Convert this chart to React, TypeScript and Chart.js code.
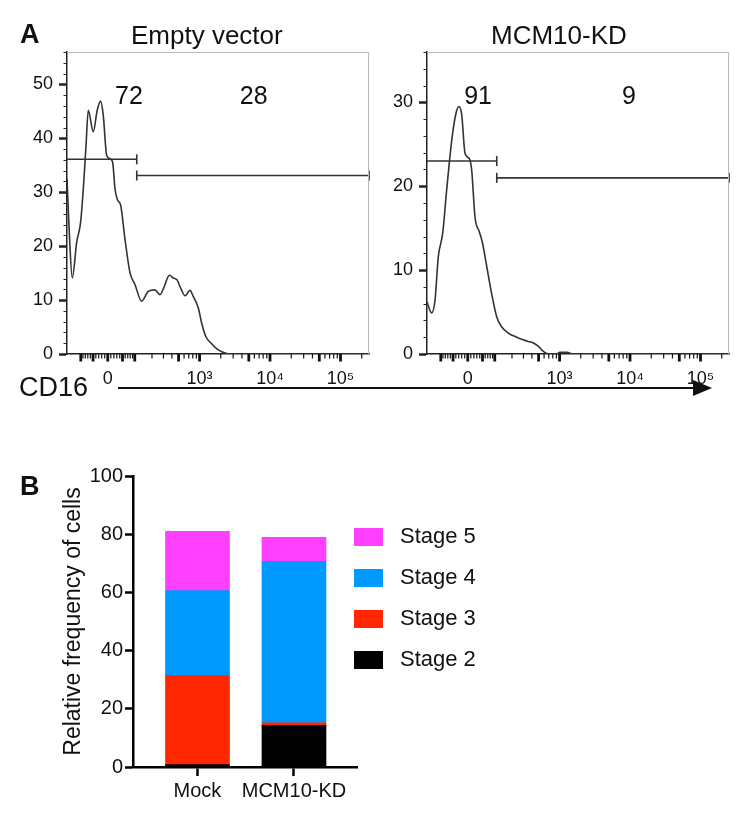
import React, { useEffect, useRef } from 'react';
import { Chart, registerables } from 'chart.js';

Chart.register(...registerables);

const FONT = '"Liberation Sans", Arial, Helvetica, sans-serif';
const INK = '#111111';
const CURVE = '#333333';

// ---------------- Panel A: CD16 histograms ----------------
// x = display channel on the biexponential CD16 axis (0–1000), y = cell count
const evChannel = [0, 8, 17.5, 32, 45, 54, 63, 70.5, 87, 100, 111.5, 120, 131.5, 142.5, 151, 159, 166.5, 178, 192, 208.5, 225, 247, 269, 291, 308, 320, 339, 352, 365, 376.5, 391, 407, 418, 435, 446, 460, 479, 501, 529, 556, 1000];
const evCount = [32.5, 22, 14.1, 20.7, 24.4, 30.6, 38.7, 45.2, 41.2, 45.2, 46.9, 44.3, 36.8, 36.2, 35.6, 30.6, 28.7, 27.5, 21.3, 15.1, 12.9, 9.8, 11.6, 11.9, 11.0, 12.2, 14.6, 14.1, 13.7, 12.2, 10.8, 11.8, 10.7, 8.5, 5.7, 3.2, 1.9, 0.75, 0.1, 0, 0];

const kdChannel = [0, 15.5, 26.5, 37.5, 52, 65, 82, 96, 106, 115, 126, 140, 148, 159, 173, 184, 198, 214, 231, 247, 269, 297, 318, 335, 351, 369, 385, 402, 429, 440, 463, 484, 1000];
const kdCount = [6.2, 4.9, 6.4, 11.6, 14.4, 19.5, 25.5, 28.7, 29.5, 28.5, 23.9, 23.3, 21.9, 16.3, 14.6, 13.2, 10.4, 7.2, 4.4, 3.25, 2.5, 2.0, 1.7, 1.5, 1.35, 0.9, 0.3, 0, 0, 0.2, 0.2, 0, 0];

// gates: boundaries in display channel, marker heights in count units
const gateBounds = [0, 231, 1000];
const evGateY = [36.1, 33.1];
const kdGateY = [23.0, 21.0];
const evGatePct = ['72', '28'];
const kdGatePct = ['91', '9'];
const evPctAnchorX = [205, 618];
const evPctAnchorY = [47.7, 47.7];
const kdPctAnchorX = [169, 669];
const kdPctAnchorY = [30.6, 30.6];

// axes
const evYMax = 56;
const kdYMax = 36;
const evYMajor = [0, 10, 20, 30, 40, 50];
const kdYMajor = [0, 10, 20, 30];
const xMajorValues = [0, 1e3, 1e4, 1e5];
const xMajorLabels = ['0', '10\u00B3', '10\u2074', '10\u2075'];

// ---------------- Panel B: stacked bars ----------------
const categories = ['Mock', 'MCM10-KD'];
const stageLabels = ['Stage 2', 'Stage 3', 'Stage 4', 'Stage 5'];
const stage2 = [0.8, 14.3];
const stage3 = [30.6, 0.9];
const stage4 = [29.2, 55.5];
const stage5 = [20.4, 8.2];
const stageColors = ['#000000', '#FF2600', '#0099FF', '#FF40FF'];
const bTicks = [0, 20, 40, 60, 80, 100];

// biexponential display transform (fluorescence value -> display channel)
const biex = (v: number) => 1000 * (0.135 + 0.1014 * Math.asinh(v / 100));

type XT = { v: number; thick: boolean };
function buildXTicks(): XT[] {
  const out: XT[] = [];
  for (let k = -10; k <= 10; k++) out.push({ v: k * 10, thick: k % 5 === 0 });
  for (const d of [100, 1000, 10000]) {
    for (let k = 2; k <= 10; k++) out.push({ v: d * k, thick: k === 5 || k === 10 });
  }
  out.push({ v: 2e5, thick: false });
  return out;
}
const X_TICKS = buildXTicks();

const histDecor = {
  id: 'histDecor',
  afterDraw(chart: any, _args: any, opts: any) {
    const { ctx, chartArea: a, scales } = chart;
    const xs = scales.x;
    const ys = scales.y;
    ctx.save();
    ctx.strokeStyle = '#b8b8b8';
    ctx.lineWidth = 1;
    ctx.beginPath();
    ctx.moveTo(a.left, a.top + 0.5);
    ctx.lineTo(a.right - 0.5, a.top + 0.5);
    ctx.lineTo(a.right - 0.5, a.bottom);
    ctx.stroke();
    ctx.strokeStyle = '#222';
    ctx.lineWidth = 1;
    for (let v = 2; v <= opts.yMax; v += 2) {
      if (v % 10 === 0) continue;
      const py = Math.round(ys.getPixelForValue(v)) + 0.5;
      ctx.beginPath();
      ctx.moveTo(a.left - 3.5, py);
      ctx.lineTo(a.left, py);
      ctx.stroke();
    }
    ctx.strokeStyle = '#111';
    for (const t of X_TICKS) {
      const px = xs.getPixelForValue(biex(t.v));
      if (px < a.left || px > a.right) continue;
      ctx.lineWidth = t.thick ? 2.8 : 1.2;
      ctx.beginPath();
      ctx.moveTo(px, a.bottom);
      ctx.lineTo(px, a.bottom + (t.thick ? 7.5 : 4.5));
      ctx.stroke();
    }
    ctx.fillStyle = INK;
    ctx.font = `25px ${FONT}`;
    ctx.textAlign = 'center';
    ctx.textBaseline = 'middle';
    opts.texts.forEach((txt: string, i: number) => {
      ctx.fillText(txt, xs.getPixelForValue(opts.tx[i]), ys.getPixelForValue(opts.ty[i]));
    });
    ctx.restore();
  },
};

function histConfig(
  channels: number[], counts: number[], gateY: number[], pct: string[],
  tx: number[], ty: number[], yMax: number, yMajor: number[], yAxisWidth: number, rightPad: number,
): any {
  const gateStyle = {
    borderColor: CURVE, borderWidth: 1.6, pointStyle: 'line', pointRotation: 90,
    pointBorderColor: CURVE, pointBorderWidth: 1.6, pointBackgroundColor: CURVE, clip: false,
  };
  return {
    type: 'line',
    data: {
      datasets: [
        {
          data: channels.map((c, i) => ({ x: c, y: counts[i] })),
          borderColor: CURVE, borderWidth: 1.6, pointRadius: 0, cubicInterpolationMode: 'monotone', fill: false,
        },
        { ...gateStyle, data: [{ x: gateBounds[0], y: gateY[0] }, { x: gateBounds[1], y: gateY[0] }], pointRadius: [0, 5] },
        { ...gateStyle, data: [{ x: gateBounds[1], y: gateY[1] }, { x: gateBounds[2], y: gateY[1] }], pointRadius: 5 },
      ],
    },
    options: {
      animation: false,
      responsive: false,
      events: [],
      layout: { padding: { left: 0, top: 52, right: rightPad, bottom: 0 } },
      plugins: {
        legend: { display: false },
        tooltip: { enabled: false },
        histDecor: { yMax, texts: pct, tx, ty },
      },
      scales: {
        x: {
          type: 'linear', min: 0, max: 1000,
          afterBuildTicks: (s: any) => { s.ticks = xMajorValues.map((v) => ({ value: biex(v) })); },
          afterFit: (s: any) => { s.height = 46; },
          grid: { display: false },
          border: { display: true, color: '#222', width: 1.5 },
          ticks: {
            callback: (_v: any, i: number) => xMajorLabels[i],
            font: { family: FONT, size: 18 }, color: INK, padding: 6, autoSkip: false, maxRotation: 0,
          },
        },
        y: {
          type: 'linear', min: 0, max: yMax,
          afterBuildTicks: (s: any) => { s.ticks = yMajor.map((v) => ({ value: v })); },
          afterFit: (s: any) => { s.width = yAxisWidth; },
          grid: { drawOnChartArea: false, tickLength: 8, tickWidth: 2.5, tickColor: '#222' },
          border: { display: true, color: '#222', width: 1.5 },
          ticks: { font: { family: FONT, size: 18 }, color: INK, padding: 6 },
        },
      },
    },
    plugins: [histDecor],
  };
}

const stageLegend = {
  id: 'stageLegend',
  afterDraw(chart: any, _args: any, opts: any) {
    const { ctx } = chart;
    const ds = chart.data.datasets;
    ctx.save();
    ctx.font = `22px ${FONT}`;
    ctx.textAlign = 'left';
    ctx.textBaseline = 'middle';
    const order = ds.map((_d: any, i: number) => i).reverse();
    order.forEach((di: number, row: number) => {
      const cy = opts.y0 + row * opts.step;
      ctx.fillStyle = ds[di].backgroundColor;
      ctx.fillRect(opts.x, cy - 9, 29, 18);
      ctx.fillStyle = INK;
      ctx.fillText(ds[di].label, opts.textX, cy);
    });
    ctx.restore();
  },
};

function barConfig(): any {
  const stageValues = [stage2, stage3, stage4, stage5];
  return {
    type: 'bar',
    data: {
      datasets: stageLabels.map((lab, si) => ({
        label: lab,
        data: stageValues[si].map((v, i) => ({ x: i, y: v })),
        backgroundColor: stageColors[si],
        borderWidth: 0,
        barThickness: 64,
        stack: 'cells',
      })),
    },
    options: {
      animation: false,
      responsive: false,
      events: [],
      layout: { padding: { left: 0, top: 21, right: 397, bottom: 0 } },
      plugins: {
        legend: { display: false },
        tooltip: { enabled: false },
        stageLegend: { x: 354, textX: 400, y0: 82, step: 41 },
      },
      scales: {
        x: {
          type: 'linear', min: -0.668, max: 1.653, offset: false,
          afterBuildTicks: (s: any) => { s.ticks = categories.map((_c, i) => ({ value: i })); },
          afterFit: (s: any) => { s.height = 51; },
          grid: { offset: false, drawOnChartArea: false, tickLength: 9, tickWidth: 2.5, tickColor: '#000' },
          border: { display: true, color: '#000', width: 2.5 },
          ticks: {
            callback: (_v: any, i: number) => categories[i],
            font: { family: FONT, size: 20 }, color: INK, padding: 3, autoSkip: false, maxRotation: 0,
          },
        },
        y: {
          stacked: true, min: 0, max: 100,
          afterBuildTicks: (s: any) => { s.ticks = bTicks.map((v) => ({ value: v })); },
          afterFit: (s: any) => { s.width = 133; },
          grid: { drawOnChartArea: false, tickLength: 8, tickWidth: 2.5, tickColor: '#000' },
          border: { display: true, color: '#000', width: 2.5 },
          ticks: { font: { family: FONT, size: 20 }, color: INK, padding: 2 },
          title: {
            display: true, text: 'Relative frequency of cells',
            font: { family: FONT, size: 23 }, color: INK, padding: { top: 60, bottom: 0 },
          },
        },
      },
    },
    plugins: [stageLegend],
  };
}

export default function App() {
  const evRef = useRef<HTMLCanvasElement>(null);
  const kdRef = useRef<HTMLCanvasElement>(null);
  const barRef = useRef<HTMLCanvasElement>(null);

  useEffect(() => {
    const charts = [
      new Chart(evRef.current as HTMLCanvasElement, histConfig(evChannel, evCount, evGateY, evGatePct, evPctAnchorX, evPctAnchorY, evYMax, evYMajor, 67, 11)),
      new Chart(kdRef.current as HTMLCanvasElement, histConfig(kdChannel, kdCount, kdGateY, kdGatePct, kdPctAnchorX, kdPctAnchorY, kdYMax, kdYMajor, 47, 25)),
      new Chart(barRef.current as HTMLCanvasElement, barConfig()),
    ];
    return () => charts.forEach((c) => c.destroy());
  }, []);

  const txt = (s: React.CSSProperties): React.CSSProperties => ({
    position: 'absolute', lineHeight: 1, whiteSpace: 'nowrap', fontFamily: FONT, color: INK, ...s,
  });

  return (
    <div style={{ position: 'absolute', left: 0, top: 0, width: 754, height: 818, background: '#fff', overflow: 'hidden' }}>
      <canvas ref={evRef} width={380} height={400} style={{ position: 'absolute', left: 0, top: 0, width: 380, height: 400 }} />
      <canvas ref={kdRef} width={374} height={400} style={{ position: 'absolute', left: 380, top: 0, width: 374, height: 400 }} />
      <canvas ref={barRef} width={754} height={363} style={{ position: 'absolute', left: 0, top: 455, width: 754, height: 363 }} />
      <div style={txt({ left: 20, top: 21, fontSize: 27, fontWeight: 'bold' })}>A</div>
      <div style={txt({ left: 131, top: 21.5, fontSize: 26 })}>Empty vector</div>
      <div style={txt({ left: 491, top: 21.5, fontSize: 26 })}>MCM10-KD</div>
      <div style={txt({ left: 19, top: 374, fontSize: 27 })}>CD16</div>
      <div style={txt({ left: 20, top: 472.5, fontSize: 27, fontWeight: 'bold' })}>B</div>
      <svg width={754} height={818} style={{ position: 'absolute', left: 0, top: 0, pointerEvents: 'none' }}>
        <line x1={118} y1={388} x2={696} y2={388} stroke={INK} strokeWidth={2} />
        <polygon points="693,380 712,388 693,396" fill={INK} />
      </svg>
    </div>
  );
}
